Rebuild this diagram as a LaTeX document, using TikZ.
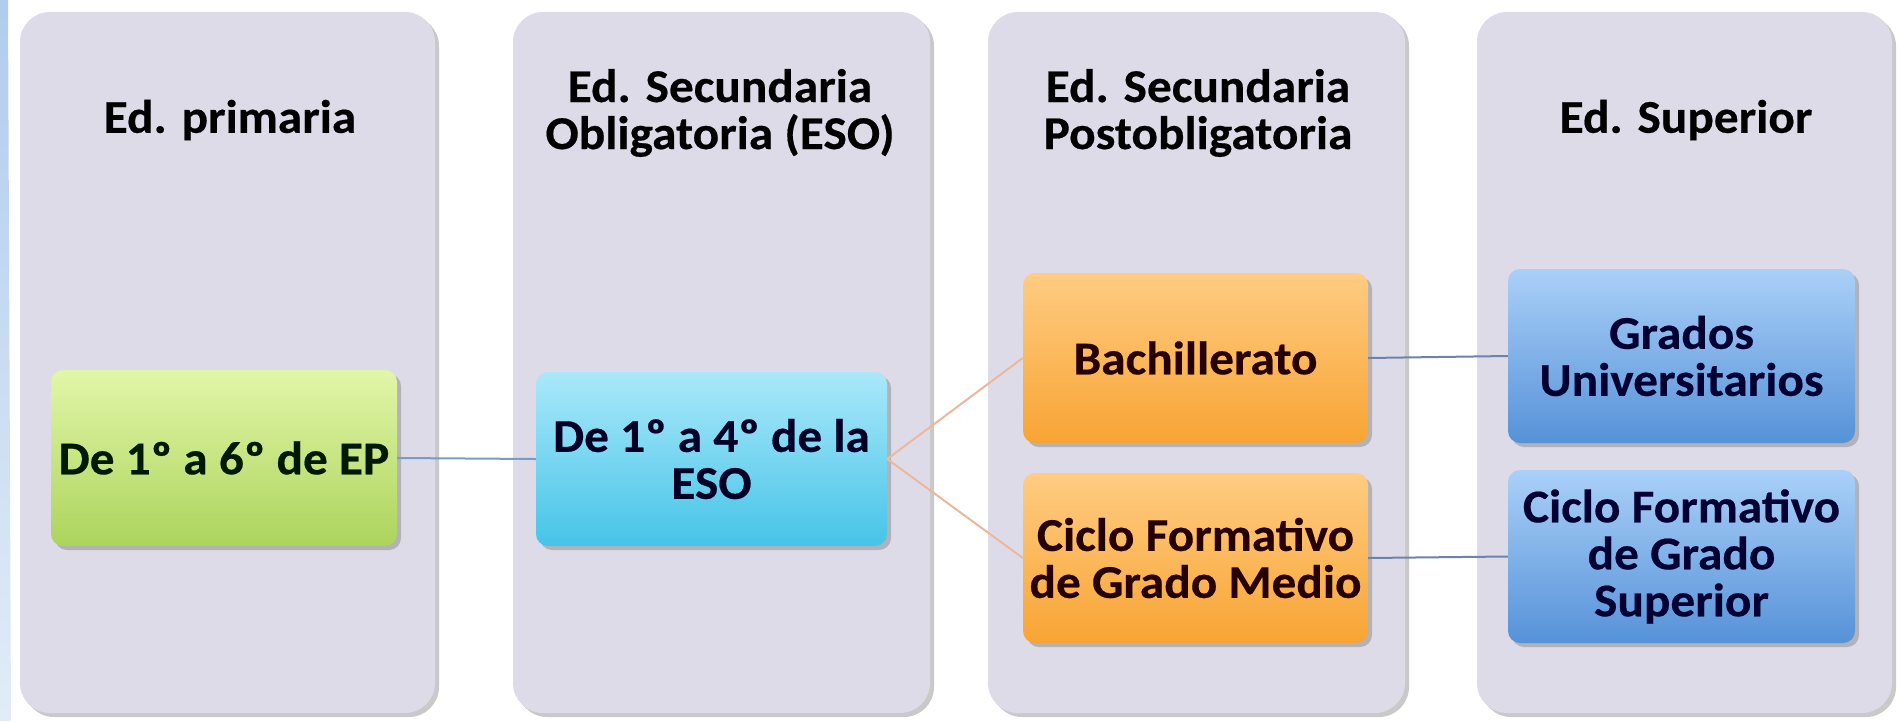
\documentclass[tikz,border=0pt]{standalone}
\usepackage{fontspec}
\setmainfont{Carlito}[FakeStretch=1.05, FakeBold=0.4]
\usetikzlibrary{shadows}
\definecolor{panelcol}{RGB}{221,219,231}
\definecolor{greentop}{RGB}{226,246,168}
\definecolor{greenbot}{RGB}{172,212,92}
\definecolor{cyantop}{RGB}{170,232,250}
\definecolor{cyanbot}{RGB}{70,196,232}
\definecolor{orangetop}{RGB}{255,204,130}
\definecolor{orangebot}{RGB}{248,164,52}
\definecolor{bluetop}{RGB}{170,208,248}
\definecolor{bluebot}{RGB}{86,146,216}
\definecolor{lineblue}{RGB}{120,156,196}
\definecolor{lineorange}{RGB}{236,184,156}
\definecolor{linegrey}{RGB}{108,132,170}
\definecolor{striptop}{RGB}{176,204,238}
\definecolor{stripbot}{RGB}{226,236,248}
\tikzset{
  panel/.style={rounded corners=30pt, fill=panelcol, draw=none, inner sep=0pt,
    drop shadow={shadow xshift=4pt, shadow yshift=-4pt, opacity=0.35, fill=black!60}},
  title/.style={align=center, inner sep=0pt, font=\fontsize{47}{47}\selectfont\bfseries, text=black},
  box/.style={rounded corners=12pt, draw=none, inner sep=0pt, align=center,
    font=\fontsize{47}{47}\selectfont\bfseries,
    drop shadow={shadow xshift=4pt, shadow yshift=-4pt, opacity=0.35, fill=black!60}},
  greenbox/.style={box, top color=greentop, bottom color=greenbot, text=black!90!green},
  cyanbox/.style={box, top color=cyantop, bottom color=cyanbot, text=black!85!blue},
  orangebox/.style={box, top color=orangetop, bottom color=orangebot, text=black!85!red},
  bluebox/.style={box, top color=bluetop, bottom color=bluebot, text=black!80!blue},
  connA/.style={draw=lineblue, line width=2pt},
  connB/.style={draw=lineorange, line width=2pt},
  connC/.style={draw=linegrey, line width=2pt}
}
\begin{document}
\begin{tikzpicture}[x=1pt, y=-1pt]
\useasboundingbox (0,0) rectangle (1901,721);
\fill[white] (0,0) rectangle (1901,721);
% left strip
\shade[top color=striptop, bottom color=stripbot] (0,0) -- (8,0) -- (11,721) -- (0,721) -- cycle;
% panels
\node[panel, minimum width=415pt, minimum height=701pt] (p1) at (227.5,362.5) {};
\node[panel, minimum width=417pt, minimum height=701pt] (p2) at (721.5,362.5) {};
\node[panel, minimum width=417pt, minimum height=701pt] (p3) at (1196.5,362.5) {};
\node[panel, minimum width=415pt, minimum height=701pt] (p4) at (1684.5,362.5) {};
% titles
\node[title] (t1) at (230,120) {Ed. primaria};
\node[title] (t2) at (720,113) {Ed. Secundaria\\Obligatoria (ESO)};
\node[title] (t3) at (1198,113) {Ed. Secundaria\\Postobligatoria};
\node[title] (t4) at (1686,120) {Ed. Superior};
% boxes
\node[greenbox, minimum width=346pt, minimum height=176pt] (ep) at (224,458) {De 1º a 6º de EP};
\node[cyanbox, minimum width=351pt, minimum height=174pt] (eso) at (711.5,459) {De 1º a 4º de la\\ESO};
\node[orangebox, minimum width=345pt, minimum height=170pt] (bach) at (1195.5,358) {Bachillerato};
\node[orangebox, minimum width=345pt, minimum height=170pt] (cfgm) at (1195.5,558) {Ciclo Formativo\\de Grado Medio};
\node[bluebox, minimum width=347pt, minimum height=174pt] (grad) at (1681.5,356) {Grados\\Universitarios};
\node[bluebox, minimum width=347pt, minimum height=173pt] (cfgs) at (1681.5,556.5) {Ciclo Formativo\\de Grado\\Superior};
% connectors
\draw[connA] (ep.east) -- (eso.west);
\draw[connB] (eso.east) -- (bach.west);
\draw[connB] (eso.east) -- (cfgm.west);
\draw[connC] (bach.east) -- (grad.west);
\draw[connC] (cfgm.east) -- (cfgs.west);
\end{tikzpicture}
\end{document}
